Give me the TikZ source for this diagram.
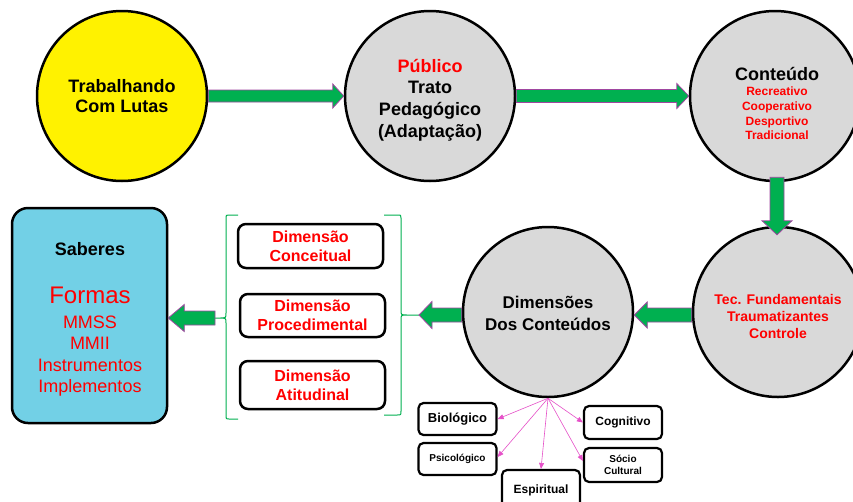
\documentclass[tikz,border=0pt]{standalone}
\usepackage{fontspec}
\setmainfont{Liberation Sans}
\usetikzlibrary{calc,arrows.meta}
\definecolor{ggreen}{RGB}{0,176,80}
\definecolor{gpurple}{RGB}{160,70,160}
\definecolor{cgray}{RGB}{217,217,217}
\definecolor{sblue}{RGB}{114,208,230}
\definecolor{pinkl}{RGB}{230,80,200}
\newcommand{\fs}[2]{\fontsize{#1}{#2}\selectfont}
% start, end, shaft half, head half, head length
\newcommand{\garrowR}[5]{\draw[garrow] let \p1=(#1), \p2=(#2) in (\x1,\y1+#3) -- (\x2-#5,\y1+#3) -- (\x2-#5,\y1+#4) -- (\x2,\y1) -- (\x2-#5,\y1-#4) -- (\x2-#5,\y1-#3) -- (\x1,\y1-#3) -- cycle;}
\newcommand{\garrowL}[5]{\draw[garrow] let \p1=(#1), \p2=(#2) in (\x1,\y1+#3) -- (\x2+#5,\y1+#3) -- (\x2+#5,\y1+#4) -- (\x2,\y1) -- (\x2+#5,\y1-#4) -- (\x2+#5,\y1-#3) -- (\x1,\y1-#3) -- cycle;}
\newcommand{\garrowD}[5]{\draw[garrow] let \p1=(#1), \p2=(#2) in (\x1-#3,\y1) -- (\x1-#3,\y2+#5) -- (\x1-#4,\y2+#5) -- (\x1,\y2) -- (\x1+#4,\y2+#5) -- (\x1+#3,\y2+#5) -- (\x1+#3,\y1) -- cycle;}
\begin{document}
\begin{tikzpicture}[x=1pt,y=-1pt,
 circ/.style={circle,draw=black,line width=2.5pt,minimum size=170pt,inner sep=0pt,fill=cgray},
 garrow/.style={fill=ggreen,draw=gpurple,line width=0.8pt,line join=miter},
 dimbox/.style={draw=black,line width=2.5pt,rounded corners=8pt,fill=white,minimum width=145pt,align=center,text=red,font=\fs{16}{19}\bfseries,inner sep=0pt},
 smallbox/.style={draw=black,line width=2.2pt,rounded corners=5pt,fill=white,minimum width=78pt,align=center,inner sep=0pt,font=\bfseries},
 pinkarrow/.style={draw=pinkl,line width=0.6pt,-{Triangle[length=6pt,width=5pt]}},
 brace/.style={draw=ggreen,line width=1pt},
 txt/.style={anchor=base,inner sep=0pt},
]
\clip (0,0) rectangle (853,501);
\fill[white] (0,0) rectangle (853,501);

% circles
\node[circ,fill=yellow] (yel) at (122,96) {};
\node[circ] (pub) at (430,96) {};
\node[circ] (cont) at (775,96) {};
\node[circ] (tec) at (778,312) {};
\node[circ] (dim) at (548,312) {};

% circle texts
\node[txt,font=\fs{18}{21}\bfseries] (yel1) at (122,92) {Trabalhando};
\node[txt,font=\fs{18}{21}\bfseries] (yel2) at (122,112) {Com Lutas};

\node[txt,font=\fs{18}{21}\bfseries,text=red] (pub1) at (430,72) {Público};
\node[txt,font=\fs{18}{21}\bfseries] (pub2) at (430,93) {Trato};
\node[txt,font=\fs{18}{21}\bfseries] (pub3) at (430,115) {Pedagógico};
\node[txt,font=\fs{18}{21}\bfseries] (pub4) at (430,137) {(Adaptação)};

\node[txt,font=\fs{18}{21}\bfseries] (cont1) at (777,80) {Conteúdo};
\node[txt,font=\fs{12}{14}\bfseries,text=red] (cont2) at (777,95) {Recreativo};
\node[txt,font=\fs{12}{14}\bfseries,text=red] (cont3) at (777,110) {Cooperativo};
\node[txt,font=\fs{12}{14}\bfseries,text=red] (cont4) at (777,125) {Desportivo};
\node[txt,font=\fs{12}{14}\bfseries,text=red] (cont5) at (777,139) {Tradicional};

\node[txt,font=\fs{14}{17}\bfseries,text=red] (tec1) at (778,304) {Tec. Fundamentais};
\node[txt,font=\fs{14}{17}\bfseries,text=red] (tec2) at (778,321) {Traumatizantes};
\node[txt,font=\fs{14}{17}\bfseries,text=red] (tec3) at (778,338) {Controle};

\node[txt,font=\fs{17}{21}\bfseries] (dim1) at (548,308) {Dimensões};
\node[txt,font=\fs{17}{21}\bfseries] (dim2) at (548,330) {Dos Conteúdos};

% Saberes box
\node[draw=black,line width=2.5pt,rounded corners=16pt,fill=sblue,minimum width=155pt,minimum height=215pt,inner sep=0pt] (sab) at (89.5,315.5) {};
\node[txt,font=\fs{18}{21}\bfseries] (sab1) at (90,255) {Saberes};
\node[txt,font=\fs{24}{28},text=red] (sab2) at (90,303) {Formas};
\node[txt,font=\fs{18}{21},text=red] (sab3) at (90,328) {MMSS};
\node[txt,font=\fs{18}{21},text=red] (sab4) at (90,349) {MMII};
\node[txt,font=\fs{18}{21},text=red] (sab5) at (90,371) {Instrumentos};
\node[txt,font=\fs{18}{21},text=red] (sab6) at (90,392) {Implementos};

% dimension boxes
\node[dimbox,minimum height=44pt] (dconc) at (310.5,246) {Dimensão\\Conceitual};
\node[dimbox,minimum height=43pt] (dproc) at (312.5,315.5) {Dimensão\\Procedimental};
\node[dimbox,minimum height=48pt] (datit) at (312.5,385) {Dimensão\\Atitudinal};

% braces
\draw[brace] (238,215) -- (229,215) .. controls (226,215) .. (226,218) -- (226,313)
  .. controls (226,318) .. (219,318) -- (215,318) -- (219,318) .. controls (226,318) .. (226,323)
  -- (226,416) .. controls (226,419) .. (229,419) -- (238,419);
\coordinate (lcusp) at (215,318);
\draw[brace] (384,215) -- (397,215) .. controls (401,215) .. (401,218) -- (401,310)
  .. controls (401,315) .. (407,315) -- (419,315) -- (407,315) .. controls (401,315) .. (401,320)
  -- (401,411) .. controls (401,415) .. (397,415) -- (384,415);
\coordinate (rcusp) at (419,315);

% green block arrows
\garrowR{yel.east}{pub.west}{6pt}{12pt}{11pt}
\garrowR{pub.east}{cont.west}{6.5pt}{12.5pt}{12pt}
\garrowD{[xshift=2pt,yshift=5pt]cont.south}{[yshift=-9pt]tec.north}{7pt}{15pt}{14pt}
\garrowL{[yshift=-3pt]tec.west}{dim.east}{7pt}{13pt}{13pt}
\garrowL{[yshift=-3pt]dim.west}{rcusp}{7pt}{13.5pt}{13pt}
\garrowL{lcusp}{sab.east}{7pt}{13.5pt}{16pt}

% small boxes
\node[smallbox,minimum height=32pt,font=\fs{13}{15}\bfseries] (bio) at (457.5,419) {Biológico};
\node[smallbox,minimum height=32pt,font=\fs{10}{12}\bfseries] (psi) at (457.5,459) {Psicológico};
\node[smallbox,minimum height=40pt,font=\fs{12}{14}\bfseries] (esp) at (541,490) {Espiritual};
\node[smallbox,minimum height=33pt,font=\fs{12}{14}\bfseries] (cog) at (623,422.5) {Cognitivo};
\node[smallbox,minimum height=34pt,font=\fs{10}{11.5}\bfseries] (soc) at (623,465) {Sócio\\Cultural};

% pink arrows
\coordinate (dimb) at (dim.south);
\draw[pinkarrow] (dimb) -- (bio.east);
\draw[pinkarrow] (dimb) -- ([yshift=2pt]psi.east);
\draw[pinkarrow] (dimb) -- (esp.north);
\draw[pinkarrow] (dimb) -- (cog.west);
\draw[pinkarrow] (dimb) -- ([yshift=4pt]soc.west);
\end{tikzpicture}
\end{document}
